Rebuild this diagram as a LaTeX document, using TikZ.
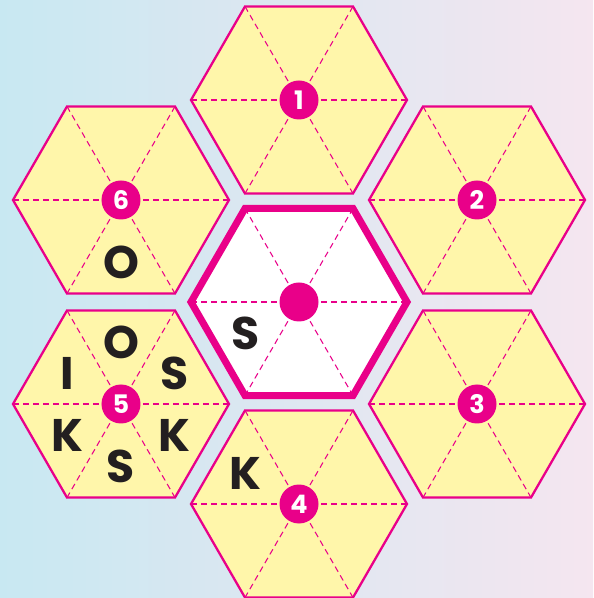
\documentclass[tikz,border=0pt]{standalone}
\usepackage{fontspec}
\setmainfont{Poppins}
\usetikzlibrary{calc}
\definecolor{HP}{RGB}{233,0,137}
\definecolor{HY}{RGB}{255,246,170}
\definecolor{BB}{RGB}{200,232,242}
\definecolor{BM}{RGB}{222,239,245}
\definecolor{BP}{RGB}{245,230,240}
\definecolor{LK}{RGB}{35,31,32}

\begin{document}
\begin{tikzpicture}[
  cell/.style={draw=HP, line width=1.3pt, fill=HY},
  core/.style={draw=HP, line width=4pt, fill=white},
  spoke/.style={draw=HP, line width=0.6pt, dash pattern=on 3.4pt off 2.3pt},
  badge/.style={circle, fill=HP, text=white, minimum size=0.78cm,
                inner sep=0pt, font=\fontsize{14.5}{14.5}\selectfont\bfseries},
  ltr/.style={text=LK, inner sep=0pt,
              font=\fontsize{26}{26}\selectfont\bfseries}
]
\def\R{2.16}
\def\r{1.24}

% background
\shade[left color=BB, middle color=BM, right color=BP] (-5.98,-5.92) rectangle (5.88,6.04);
\useasboundingbox (-5.98,-5.92) rectangle (5.88,6.04);

% hex centres
\coordinate (c0) at (0,0);
\coordinate (c1) at (0,4.04);
\coordinate (c2) at (3.56,2.04);
\coordinate (c3) at (3.56,-2.04);
\coordinate (c4) at (0,-4.04);
\coordinate (c5) at (-3.56,-2.04);
\coordinate (c6) at (-3.56,2.04);

% numbered cells
\foreach \i in {1,...,6}{
  \draw[cell] ([shift={(0:\R)}]c\i) -- ++(120:\R) -- ++(180:\R)
    -- ++(240:\R) -- ++(300:\R) -- ++(0:\R) -- cycle;
  \foreach \a in {0,60,120}
    \draw[spoke] ([shift={(\a:\R)}]c\i) -- ([shift={(\a+180:\R)}]c\i);
  \node[badge] (b\i) at (c\i) {\i};
}

% centre cell
\draw[core] ([shift={(0:\R)}]c0) -- ++(120:\R) -- ++(180:\R)
  -- ++(240:\R) -- ++(300:\R) -- ++(0:\R) -- cycle;
\foreach \a in {0,60,120}
  \draw[spoke] ([shift={(\a:\R)}]c0) -- ([shift={(\a+180:\R)}]c0);
\node[badge] (b0) at (c0) {};

% letters
\node[ltr] (l0)  at ([shift={(210:\r)}]c0) {S};
\node[ltr] (l6)  at ([shift={(270:\r)}]c6) {O};
\node[ltr] (l4)  at ([shift={(150:\r)}]c4) {K};
\node[ltr] (l5a) at ([shift={(90:\r)}]c5)  {O};
\node[ltr] (l5b) at ([shift={(150:\r)}]c5) {I};
\node[ltr] (l5c) at ([shift={(30:\r)}]c5)  {S};
\node[ltr] (l5d) at ([shift={(210:\r)}]c5) {K};
\node[ltr] (l5e) at ([shift={(330:\r)}]c5) {K};
\node[ltr] (l5f) at ([shift={(270:\r)}]c5) {S};
\end{tikzpicture}
\end{document}
